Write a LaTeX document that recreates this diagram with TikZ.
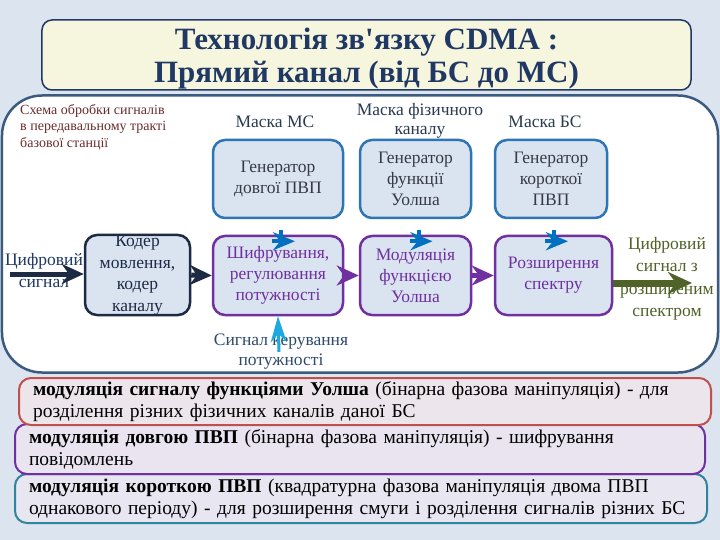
\documentclass[tikz,border=0pt]{standalone}
\usepackage{fontspec}
\setmainfont{Liberation Serif}
\usetikzlibrary{arrows.meta,calc}
\definecolor{bg}{HTML}{DCE4F0}
\definecolor{titlefill}{HTML}{F6F5DE}
\definecolor{navy}{HTML}{1F3864}
\definecolor{frame}{HTML}{3B5A80}
\definecolor{genblue}{HTML}{2E75B6}
\definecolor{boxfill}{HTML}{DAE3F0}
\definecolor{purp}{HTML}{7030A0}
\definecolor{darknavy}{HTML}{1C2A44}
\definecolor{gentext}{HTML}{363A44}
\definecolor{masktext}{HTML}{2A3A50}
\definecolor{maroon}{HTML}{6B2B2B}
\definecolor{olive}{HTML}{4F6228}
\definecolor{cyanarr}{HTML}{1CA9E0}
\definecolor{arrblue}{HTML}{0070C0}
\definecolor{redbord}{HTML}{C0504D}
\definecolor{tealbord}{HTML}{31849B}
\definecolor{infofillA}{HTML}{EDE5EC}
\definecolor{infofillB}{HTML}{E9E4F0}
\definecolor{infofillC}{HTML}{E7E6F1}
\definecolor{sigtext}{HTML}{2E4A6B}
\begin{document}
\begin{tikzpicture}[x=1bp,y=-1bp,
  basebox/.style={rounded corners=12bp, line width=2.5bp, fill=boxfill, align=center,
    font=\fontsize{17.5bp}{21bp}\selectfont, inner sep=0pt},
  gen/.style={basebox, draw=genblue, text=gentext, minimum height=78bp},
  proc/.style={basebox, draw=purp, text=purp, minimum height=79bp},
  coder/.style={basebox, draw=darknavy, text=darknavy, minimum height=80bp,
    font=\fontsize{17.5bp}{21.5bp}\selectfont},
  lbl/.style={align=center, inner sep=0pt, font=\fontsize{17.5bp}{20bp}\selectfont},
  info/.style={rounded corners=12bp, line width=2bp, align=left, inner xsep=14bp,
    inner ysep=0pt, anchor=north west, text=black,
    font=\fontsize{19.5bp}{22bp}\selectfont},
  navarrow/.style={draw=darknavy, line width=5bp, -{Stealth[length=22bp,width=20bp]}},
  purarrow/.style={draw=purp, line width=5bp, -{Stealth[length=22bp,width=20bp]}},
  greenarrow/.style={draw=olive, line width=7bp, -{Stealth[length=24bp,width=22bp]}},
  cyanarrow/.style={draw=cyanarr, line width=3bp, -{Stealth[length=26bp,width=16bp]}},
  bluestem/.style={draw=arrblue, line width=4bp},
  bluehead/.style={draw=arrblue, line width=4bp, -{Stealth[length=22bp,width=18bp]}}
]
\useasboundingbox (0,0) rectangle (720,540);
\fill[bg] (0,0) rectangle (720,540);

% title
\node[draw=navy, line width=1.5bp, fill=titlefill, rounded corners=10bp,
  minimum width=649bp, minimum height=70bp, inner sep=0pt] (title) at (366.5,55) {};
\node[align=center, inner sep=0pt, text=navy,
  font=\bfseries\fontsize{31bp}{33bp}\selectfont] (titletext) at (366.5,59)
  {Технологія зв\textquotesingle язку CDMA :\\Прямий канал (від БС до МС)};

% main frame
\node[draw=frame, line width=2.5bp, fill=white, rounded corners=40bp,
  minimum width=716bp, minimum height=277bp, inner sep=0pt] (frame) at (360,234) {};

% caption
\node[anchor=north west, align=left, inner sep=0pt, text=maroon,
  font=\fontsize{14bp}{16.7bp}\selectfont] (cap) at (20,104)
  {Схема обробки сигналів\\в передавальному тракті\\базової станції};

% masks
\node[lbl, text=masktext] (m1) at (275,122) {Маска МС};
\node[lbl, text=masktext, font=\fontsize{17.5bp}{19bp}\selectfont] (m2) at (420,121) {Маска фізичного\\каналу};
\node[lbl, text=masktext] (m3) at (545,122) {Маска БС};

% generators
\node[gen, minimum width=130bp] (G1) at (278,179) {Генератор\\довгої ПВП};
\node[gen, minimum width=111bp] (G2) at (415.5,179) {Генератор\\функції\\Уолша};
\node[gen, minimum width=112bp] (G3) at (551,179) {Генератор\\короткої\\ПВП};

% processing row
\node[coder, minimum width=105bp] (K) at (137.5,275) {Кодер\\мовлення,\\кодер\\каналу};
\node[proc, minimum width=130bp] (S) at (278,275.5) {Шифрування,\\регулювання\\потужності};
\node[proc, minimum width=111bp] (M) at (415.5,275.5) {Модуляція\\функцією\\Уолша};
\node[proc, minimum width=117bp] (R) at (553.5,275.5) {Розширення\\спектру};

% input / output labels
\node[lbl, text=navy, font=\fontsize{17.5bp}{22bp}\selectfont] (inlbl) at (44,271) {Цифровий\\сигнал};
\node[lbl, text=olive, font=\fontsize{17.5bp}{22.5bp}\selectfont] (outlbl) at (667,279) {Цифровий\\сигнал з\\розширеним\\спектром};
\node[lbl, text=sigtext] (ctllbl) at (281,352) {Сигнал керування\\потужності};

% arrows
\coordinate (inL) at (10,274);
\draw[navarrow] (inL) -- (inL -| K.west);
\draw[navarrow] (K.east) -- (S.west);
\draw[purarrow] (S.east) -- (M.west);
\draw[purarrow] (M.east) -- (R.west);
\coordinate (outR) at (692,283);
\draw[greenarrow] (outR -| R.east) -- (outR);
\coordinate (ctl) at (279,352);
\draw[cyanarrow] (ctl) -- (S.south);

\foreach \g in {G1,G2,G3}{
  \draw[bluestem] ($(\g.south)+(3,11)$) -- ++(0,11);
  \draw[bluehead] ($(\g.south)+(-6,22)$) -- ++(23,0);
}

% info boxes
\node[info, draw=tealbord, fill=infofillC, minimum width=692bp, minimum height=49bp,
  text width=664bp] (C) at (14,473)
  {\textbf{модуляція короткою ПВП} (квадратурна фазова маніпуляція двома ПВП\\однакового періоду) - для розширення смуги і розділення сигналів різних БС};
\node[info, draw=purp, fill=infofillB, minimum width=690bp, minimum height=50bp,
  text width=662bp] (B) at (14,423)
  {\textbf{модуляція довгою ПВП} (бінарна фазова маніпуляція) - шифрування\\повідомлень};
\node[info, draw=redbord, fill=infofillA, minimum width=692bp, minimum height=47bp,
  text width=664bp] (A) at (18,377)
  {\textbf{модуляція сигналу функціями Уолша} (бінарна фазова маніпуляція) - для\\розділення різних фізичних каналів даної БС};
\end{tikzpicture}
\end{document}
